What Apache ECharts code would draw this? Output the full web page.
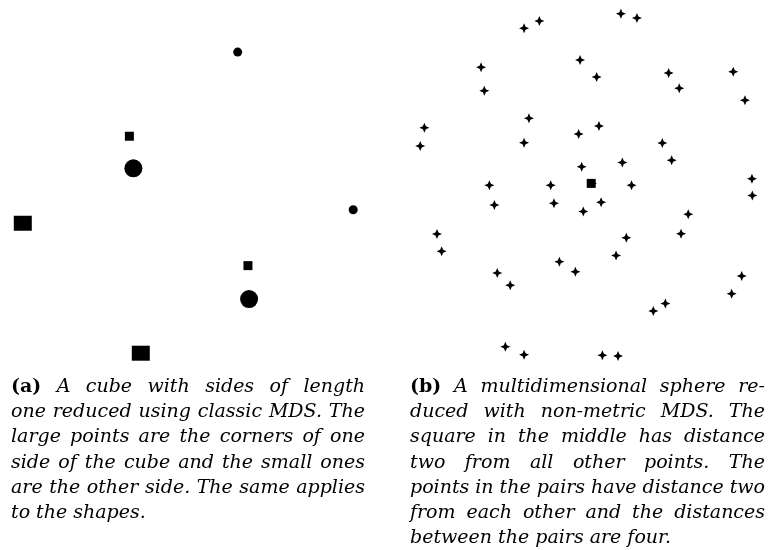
<!DOCTYPE html>
<html>
<head>
<meta charset="utf-8">
<script src="https://cdn.jsdelivr.net/npm/echarts@6/dist/echarts.min.js"></script>
<style>
html,body{margin:0;padding:0;background:#fff;}
#chart{width:769px;height:550px;}
</style>
</head>
<body>
<div id="chart"></div>
<script>
// ---- (a) cube reduced with classic MDS ----
var cubeLargeCircles = [[-0.298, 0.114], [0.311, -0.574]];
var cubeSmallCircles = [[0.251, 0.726], [0.859, -0.104]];
var cubeLargeSquares = [[-0.880, -0.175], [-0.259, -0.859]];
var cubeSmallSquares = [[-0.319, 0.283], [0.305, -0.398]];

// ---- (b) sphere reduced with non-metric MDS ----
var spherePoints = [
  [-0.344, 0.871], [-0.259, 0.911], [0.194, 0.952], [0.283, 0.928],
  [-0.583, 0.654], [-0.565, 0.524], [-0.033, 0.694], [0.059, 0.600],
  [0.459, 0.622], [0.518, 0.537], [0.818, 0.629], [0.883, 0.471],
  [-0.898, 0.318], [-0.921, 0.217], [-0.317, 0.371], [-0.344, 0.235],
  [-0.041, 0.283], [0.072, 0.328], [0.424, 0.233], [0.476, 0.137],
  [-0.024, 0.102], [0.202, 0.125], [0.922, 0.035], [-0.537, -0.002],
  [-0.196, -0.002], [0.033, 0.009], [0.253, -0.001], [0.924, -0.059],
  [-0.509, -0.111], [-0.178, -0.102], [-0.015, -0.147], [0.084, -0.096],
  [0.568, -0.163], [-0.828, -0.272], [-0.802, -0.368], [0.528, -0.271],
  [0.224, -0.293], [0.167, -0.391], [-0.148, -0.426], [-0.059, -0.482],
  [-0.493, -0.489], [-0.421, -0.557], [0.865, -0.506], [0.809, -0.604],
  [0.441, -0.659], [0.374, -0.700], [-0.448, -0.898], [-0.344, -0.943],
  [0.091, -0.946], [0.178, -0.950]
];
var sphereCenter = [[0.029, 0.009]];

// ---- captions ----
var captionALabel = "(a)";
var captionALines = [
  "A cube with sides of length",
  "one reduced using classic MDS. The",
  "large points are the corners of one",
  "side of the cube and the small ones",
  "are the other side.  The same applies",
  "to the shapes."
];
var captionBLabel = "(b)";
var captionBLines = [
  "A multidimensional sphere re-",
  "duced with non-metric MDS. The",
  "square in the middle has distance",
  "two from all other points.  The",
  "points in the pairs have distance two",
  "from each other and the distances",
  "between the pairs are four."
];

var starPath = 'path://M0,-10 L3,-3 L10,0 L3,3 L0,10 L-3,3 L-10,0 L-3,-3 Z';

var chart = echarts.init(document.getElementById('chart'), null, {renderer: 'canvas'});

var FONT_FAMILY = '"DejaVu Serif", serif';
var FONT_SIZE = 19;
var measureCtx = document.createElement('canvas').getContext('2d');
function measure(text, bold) {
  measureCtx.font = (bold ? 'bold ' : 'italic ') + FONT_SIZE + 'px ' + FONT_FAMILY;
  return measureCtx.measureText(text).width;
}

function buildCaption(label, lines, left, right, top, lineHeight) {
  var els = [];
  for (var i = 0; i < lines.length; i++) {
    var words = lines[i].split(/\s+/).map(function (w) { return {t: w, bold: false}; });
    if (i === 0) words.unshift({t: label, bold: true});
    var widths = words.map(function (w) { return measure(w.t, w.bold); });
    var total = widths.reduce(function (a, b) { return a + b; }, 0);
    var last = (i === lines.length - 1);
    var gap = last ? measure(' ', false) : (right - left - total) / (words.length - 1);
    var x = left;
    var y = top + i * lineHeight;
    for (var j = 0; j < words.length; j++) {
      els.push({
        type: 'text',
        x: x, y: y,
        style: {
          text: words[j].t,
          font: (words[j].bold ? 'bold ' : 'italic ') + FONT_SIZE + 'px ' + FONT_FAMILY,
          fill: '#000',
          textVerticalAlign: 'middle',
          textAlign: 'left'
        }
      });
      x += widths[j] + gap;
    }
  }
  return els;
}

var captionEls = []
  .concat(buildCaption(captionALabel, captionALines, 11, 365, 387, 25.2))
  .concat(buildCaption(captionBLabel, captionBLines, 410, 765, 387, 25.2));

var hiddenAxis = {type: 'value', min: -1, max: 1, show: false};
var black = {color: '#000', opacity: 1};

var option = {
  animation: false,
  backgroundColor: '#fff',
  grid: [
    {left: 0, top: 0, width: 380, height: 380},
    {left: 406, top: 5, width: 360, height: 360}
  ],
  xAxis: [
    Object.assign({gridIndex: 0}, hiddenAxis),
    Object.assign({gridIndex: 1}, hiddenAxis)
  ],
  yAxis: [
    Object.assign({gridIndex: 0}, hiddenAxis),
    Object.assign({gridIndex: 1}, hiddenAxis)
  ],
  series: [
    {type: 'scatter', xAxisIndex: 0, yAxisIndex: 0, data: cubeLargeCircles,
     symbol: 'circle', symbolSize: 18, itemStyle: black},
    {type: 'scatter', xAxisIndex: 0, yAxisIndex: 0, data: cubeSmallCircles,
     symbol: 'circle', symbolSize: 9, itemStyle: black},
    {type: 'scatter', xAxisIndex: 0, yAxisIndex: 0, data: cubeLargeSquares,
     symbol: 'rect', symbolSize: [18, 15], itemStyle: black},
    {type: 'scatter', xAxisIndex: 0, yAxisIndex: 0, data: cubeSmallSquares,
     symbol: 'rect', symbolSize: 9, itemStyle: black},
    {type: 'scatter', xAxisIndex: 1, yAxisIndex: 1, data: spherePoints,
     symbol: starPath, symbolSize: 10, itemStyle: black},
    {type: 'scatter', xAxisIndex: 1, yAxisIndex: 1, data: sphereCenter,
     symbol: 'rect', symbolSize: 9, itemStyle: black, z: 3}
  ],
  graphic: captionEls
};
chart.setOption(option);
</script>
</body>
</html>
